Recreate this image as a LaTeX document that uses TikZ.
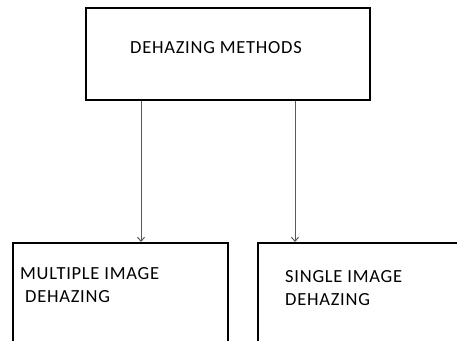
\documentclass[tikz,border=0pt]{standalone}
\usepackage{fontspec}
\setmainfont[LetterSpace=4]{Carlito}
\usetikzlibrary{arrows.meta}
\tikzset{>={Straight Barb[length=4pt,width=7pt]}}

\begin{document}
\begin{tikzpicture}[x=1pt,y=-1pt,
    box/.style={draw,line width=1.8pt,anchor=north west,inner sep=0pt},
    label/.style={anchor=north west,inner sep=0pt,align=left,font=\fontsize{18.5}{23}\selectfont},
    link/.style={->,draw=black!65,line width=1pt}]
    \useasboundingbox (0,0) rectangle (457,340);
    % boxes
    \node[box,minimum width=284pt,minimum height=92pt] (methods) at (85,7) {};
    \node[box,minimum width=215pt,minimum height=110pt] (multi) at (12,242) {};
    \node[box,minimum width=215pt,minimum height=110pt] (single) at (257,242) {};
    % texts
    \node[label] (methodstxt) at (130,41) {DEHAZING METHODS};
    \node[label] (multitxt) at (20,267) {MULTIPLE IMAGE\\\hspace{5pt}DEHAZING};
    \node[label] (singletxt) at (285,270) {SINGLE IMAGE\\DEHAZING};
    % arrows
    \draw[link] ([xshift=56pt]methods.south west) -- ([xshift=56pt]methods.south west |- multi.north);
    \draw[link] ([xshift=210pt]methods.south west) -- ([xshift=210pt]methods.south west |- single.north);
\end{tikzpicture}
\end{document}
